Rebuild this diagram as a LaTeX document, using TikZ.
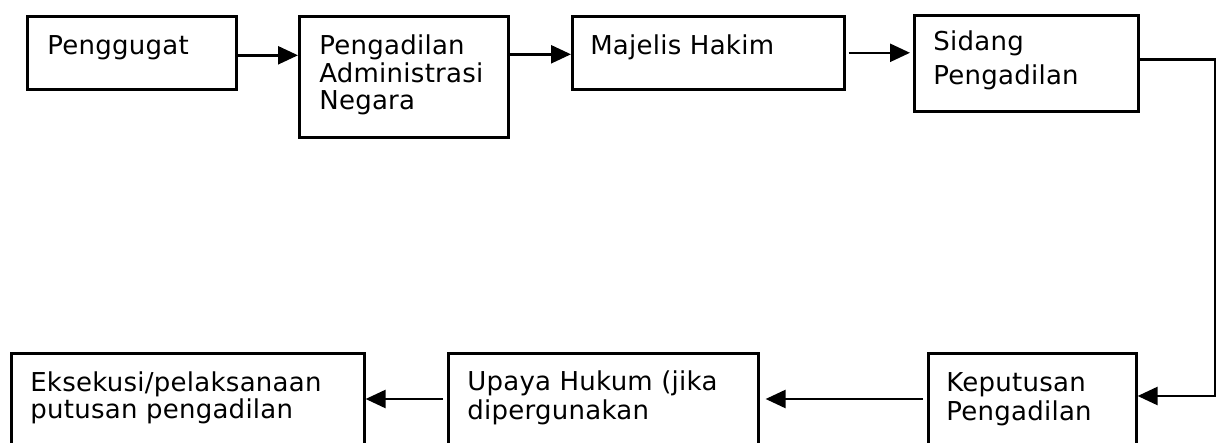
\documentclass[tikz,border=0pt]{standalone}
\usepackage{fontspec}
\setmainfont{DejaVu Sans}[LetterSpace=1]
\usetikzlibrary{arrows.meta}

% Box contents: width, height, left padding, first baseline from top, text
\newcommand{\boxbody}[5]{%
  \vbox to #2{\hsize=#1\relax\parindent=0pt\leftskip=#3\relax
    \rightskip=0pt plus 1fil\relax\baselineskip=27.5pt\relax
    \vskip\dimexpr #4-20pt\relax
    \noindent\rule{0pt}{20pt}#5\par\vss}}

\begin{document}
\begin{tikzpicture}[x=1pt,y=-1pt,
  stagebox/.style={draw, line width=2.6pt, inner sep=0pt, anchor=north west,
    font=\fontsize{26}{27.5}\selectfont},
  flow/.style={line width=2.5pt, -{Triangle[length=20pt,width=18pt]}}]
  \clip (0,0) rectangle (1216,443);
  \fill[white] (0,0) rectangle (1216,443);

  % upper row
  \node[stagebox] (gugat) at (26,15)
    {\boxbody{209pt}{73pt}{20pt}{38.5pt}{Penggugat}};
  \node[stagebox] (ptun) at (298,15)
    {\boxbody{209pt}{121pt}{20pt}{38.5pt}{Pengadilan\\Administrasi\\Negara}};
  \node[stagebox] (hakim) at (571,15)
    {\boxbody{272pt}{73pt}{18pt}{38.5pt}{Majelis Hakim}};
  \node[stagebox] (sidang) at (913,14)
    {\boxbody{224pt}{96pt}{19pt}{35.5pt}{Sidang\\[6.5pt]Pengadilan}};

  % lower row
  \node[stagebox] (eksekusi) at (10,352)
    {\boxbody{353pt}{110pt}{19pt}{38pt}{Eksekusi/pelaksanaan\\putusan pengadilan}};
  \node[stagebox] (upaya) at (447,352)
    {\boxbody{310pt}{110pt}{19pt}{37.5pt}{Upaya Hukum (jika\\[1.5pt]dipergunakan}};
  \node[stagebox] (putusan) at (927,352)
    {\boxbody{208pt}{110pt}{18pt}{38pt}{Keputusan\\[2pt]Pengadilan}};

  % connectors
  \draw[flow] ([yshift=-2.5pt]gugat.east) -- ([yshift=-2.5pt]gugat.east -| ptun.west);
  \draw[flow] ([yshift=-1.5pt]hakim.west -| ptun.east) -- ([yshift=-1.5pt]hakim.west);
  \draw[flow, shorten <=3pt, shorten >=3pt] (hakim.east) -- (hakim.east -| sidang.west);
  \coordinate (turn) at (1215,396);
  \draw[flow, line join=miter] ([yshift=4pt]sidang.east) -| (turn) -- (turn -| putusan.east);
  \draw[flow, shorten <=4pt, shorten >=6pt] (putusan.west |- 0,399) -- (upaya.east |- 0,399);
  \draw[flow, shorten <=4pt] (upaya.west |- 0,399) -- (eksekusi.east |- 0,399);
\end{tikzpicture}
\end{document}
